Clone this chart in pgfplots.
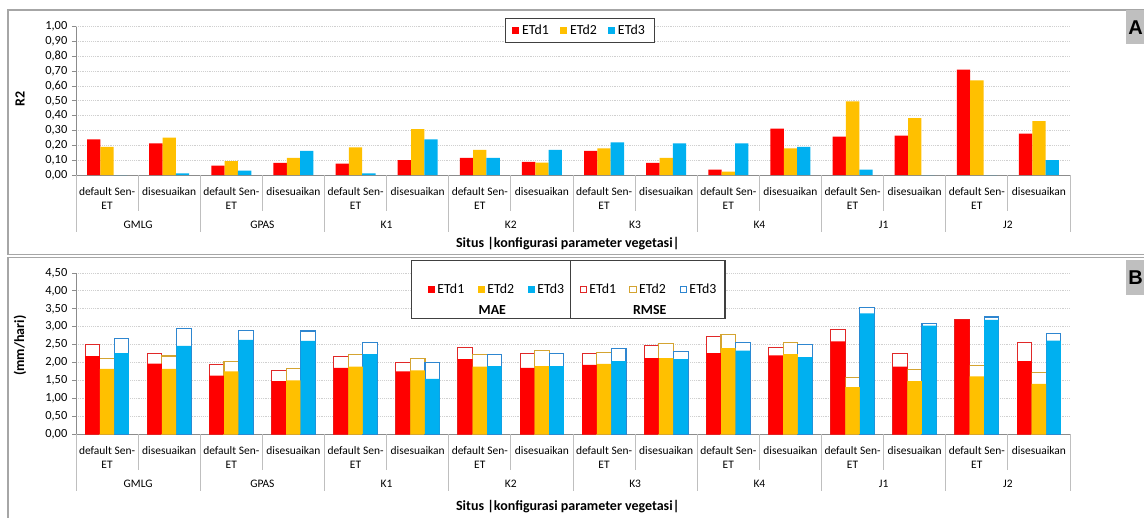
\documentclass[border=0pt]{standalone}
\usepackage{pgfplots}
\pgfplotsset{compat=1.18}
\usepackage{pgfplotstable}
\usepackage{fontspec}
\setmainfont{Carlito}
\newfontfamily\arialf{Liberation Sans}
\definecolor{cR}{HTML}{FF0000}
\definecolor{cY}{HTML}{FFC000}
\definecolor{cB}{HTML}{00B0F0}
\definecolor{rR}{HTML}{E02828}
\definecolor{rY}{HTML}{D4A431}
\definecolor{rB}{HTML}{2E86D0}
\definecolor{frameg}{HTML}{A6A6A6}
\definecolor{sepg}{HTML}{BFBFBF}
\definecolor{gridg}{HTML}{D0D0D0}
\definecolor{axg}{HTML}{8C8C8C}
\definecolor{legg}{HTML}{404040}
\definecolor{boxg}{HTML}{BFBFBF}
\newcommand{\fs}{\fontsize{9.3}{10}\selectfont}
\newcommand{\fc}{\fontsize{8.6}{10.2}\selectfont}
\newcommand{\fl}{\fontsize{10.4}{11}\selectfont}
\newcommand{\ft}{\fontsize{10.5}{12}\selectfont\bfseries}

\pgfplotstableread{
x a1 a2 a3
0 0.240 0.190 0.000
1 0.213 0.252 0.011
2 0.063 0.094 0.029
3 0.081 0.115 0.162
4 0.076 0.187 0.011
5 0.101 0.310 0.240
6 0.115 0.169 0.115
7 0.088 0.083 0.169
8 0.162 0.180 0.220
9 0.081 0.115 0.213
10 0.036 0.022 0.213
11 0.312 0.180 0.189
12 0.258 0.497 0.036
13 0.265 0.384 0.000
14 0.710 0.638 0.000
15 0.279 0.364 0.101
}\tblA

\pgfplotstableread{
x m1 m2 m3 r1 r2 r3
0 2.18 1.82 2.26 2.50 2.12 2.68
1 1.97 1.82 2.46 2.26 2.18 2.96
2 1.63 1.75 2.63 1.95 2.03 2.90
3 1.48 1.50 2.60 1.78 1.83 2.88
4 1.85 1.88 2.23 2.17 2.23 2.55
5 1.75 1.78 1.54 2.00 2.10 2.00
6 2.09 1.88 1.90 2.42 2.22 2.22
7 1.85 1.90 1.90 2.25 2.33 2.25
8 1.93 1.96 2.04 2.25 2.28 2.39
9 2.12 2.12 2.09 2.48 2.53 2.31
10 2.26 2.40 2.33 2.73 2.79 2.55
11 2.20 2.23 2.15 2.42 2.55 2.50
12 2.59 1.31 3.37 2.93 1.58 3.54
13 1.88 1.48 3.03 2.25 1.81 3.09
14 3.20 1.61 3.19 3.21 1.92 3.27
15 2.04 1.40 2.61 2.55 1.72 2.82
}\tblB

\pgfplotsset{
  panel/.style={
    scale only axis, width=745.5pt,
    xmin=-0.5, xmax=15.5, ymin=0,
    enlarge x limits=false,
    axis x line*=bottom, axis y line*=left,
    axis line style={draw=axg, line width=0.6pt},
    xtick={0,...,15},
    xticklabels={default Sen-\\ET,disesuaikan,default Sen-\\ET,disesuaikan,default Sen-\\ET,disesuaikan,default Sen-\\ET,disesuaikan,default Sen-\\ET,disesuaikan,default Sen-\\ET,disesuaikan,default Sen-\\ET,disesuaikan,default Sen-\\ET,disesuaikan},
    x tick style={draw=none},
    xticklabel style={align=center, anchor=north, yshift=-3pt, font=\fc},
    ymajorgrids, major grid style={gridg, densely dotted, line width=0.7pt},
    y tick style={axg, line width=0.6pt}, tick align=outside, major tick length=3pt,
    yticklabel style={font=\fs, /pgf/number format/.cd, fixed, fixed zerofill, precision=2, use comma},
    /pgf/number format/assume math mode=true,
    clip=false,
    every axis y label/.style={rotate=90, anchor=center, font=\ft},
    every axis x label/.style={anchor=center, font=\ft},
    xlabel={Situs |konfigurasi parameter vegetasi|},
    legend cell align=left,
  },
}

\newcommand{\catdecor}{%
  \pgfplotsinvokeforeach{-0.5,1.5,3.5,5.5,7.5,9.5,11.5,13.5,15.5}{\draw[sepg, line width=0.6pt] (axis cs:##1,0) -- ++(0pt,-42.75pt);}%
  \pgfplotsinvokeforeach{0.5,2.5,4.5,6.5,8.5,10.5,12.5,14.5}{\draw[sepg, line width=0.6pt] (axis cs:##1,0) -- ++(0pt,-27pt);}%
  \node[font=\fc] at ([yshift=-37.2pt]axis cs:0.5,0) {GMLG};
  \node[font=\fc] at ([yshift=-37.2pt]axis cs:2.5,0) {GPAS};
  \node[font=\fc] at ([yshift=-37.2pt]axis cs:4.5,0) {K1};
  \node[font=\fc] at ([yshift=-37.2pt]axis cs:6.5,0) {K2};
  \node[font=\fc] at ([yshift=-37.2pt]axis cs:8.5,0) {K3};
  \node[font=\fc] at ([yshift=-37.2pt]axis cs:10.5,0) {K4};
  \node[font=\fc] at ([yshift=-37.2pt]axis cs:12.5,0) {J1};
  \node[font=\fc] at ([yshift=-37.2pt]axis cs:14.5,0) {J2};
}

\begin{document}
\begin{tikzpicture}
\path[use as bounding box] (0pt,0pt) rectangle (858pt,-387.75pt);
\fill[white] (0pt,0pt) rectangle (858pt,-387.75pt);
% frames
\draw[frameg, line width=1pt] (6pt,-7.5pt) rectangle (870pt,-191pt);
\draw[frameg, line width=1pt] (6pt,-193.2pt) rectangle (870pt,-395pt);

% ---------------- Panel A ----------------
\begin{axis}[panel,
  at={(57pt,-131.25pt)}, anchor=south west,
  height=111.2pt, ymax=1,
  ytick={0,0.1,...,1.01},
  ylabel={R2},
  ylabel style={at={(rel axis cs:-0.0563,0.51)}},
  xlabel style={at={(rel axis cs:0.4947,-0.465)}},
  ybar=0pt, bar width=0.215,
  legend columns=3,
  legend image code/.code={\fill[#1] (0pt,-2.65pt) rectangle (5.3pt,2.65pt);},
  legend style={at={(rel axis cs:0.507,0.974)}, anchor=center, draw=legg, line width=0.9pt,
    font=\fl, inner xsep=5pt, inner ysep=2.5pt,
    /tikz/every even column/.append style={column sep=6.5pt}},
]
\addplot[fill=cR, draw=none, bar shift=-0.215] table[x=x, y=a1]{\tblA};
\addlegendentry{ETd1}
\addplot[fill=cY, draw=none, bar shift=0] table[x=x, y=a2]{\tblA};
\addlegendentry{ETd2}
\addplot[fill=cB, draw=none, bar shift=0.215] table[x=x, y=a3]{\tblA};
\addlegendentry{ETd3}
\catdecor
\end{axis}

% ---------------- Panel B ----------------
\begin{axis}[panel,
  at={(57pt,-325.5pt)}, anchor=south west,
  height=120.75pt, ymax=4.5,
  ytick={0,0.5,...,4.51},
  ylabel={(mm/hari)},
  ylabel style={at={(rel axis cs:-0.0563,0.548)}},
  xlabel style={at={(rel axis cs:0.4947,-0.453)}},
  ybar=0pt, bar width=0.235,
  legend columns=3,
  legend image code/.code={\fill[#1] (0pt,-2.65pt) rectangle (5.3pt,2.65pt);},
  legend style={at={(rel axis cs:0.4238,0.830)}, anchor=center, draw=none, fill=none,
    font=\fl, row sep=3.5pt, inner sep=0pt,
    /tikz/every even column/.append style={column sep=8pt}},
]
\addplot[fill=white, draw=rR, line width=0.8pt, bar shift=-0.235, forget plot] table[x=x, y=r1]{\tblB};
\addplot[fill=white, draw=rY, line width=0.8pt, bar shift=0, forget plot] table[x=x, y=r2]{\tblB};
\addplot[fill=white, draw=rB, line width=0.8pt, bar shift=0.235, forget plot] table[x=x, y=r3]{\tblB};
\addplot[fill=cR, draw=none, bar shift=-0.235] table[x=x, y=m1]{\tblB};
\addlegendentry{ETd1}
\addplot[fill=cY, draw=none, bar shift=0] table[x=x, y=m2]{\tblB};
\addlegendentry{ETd2}
\addplot[fill=cB, draw=none, bar shift=0.235] table[x=x, y=m3]{\tblB};
\addlegendentry{ETd3}
\addlegendimage{empty legend}\addlegendentry{\mbox{}}
\addlegendimage{empty legend}\addlegendentry{\hspace*{-6.5pt}\textbf{MAE}}
\addlegendimage{empty legend}\addlegendentry{\mbox{}}
\fill[white] (rel axis cs:0.3377,1.0764) rectangle (rel axis cs:0.6529,0.7186);
\catdecor
\end{axis}

% RMSE legend (hidden axis with same geometry)
\begin{axis}[
  scale only axis, width=745.5pt, height=120.75pt,
  at={(57pt,-325.5pt)}, anchor=south west,
  hide axis, xmin=0, xmax=1, ymin=0, ymax=1,
  legend columns=3, legend cell align=left,
  legend style={at={(rel axis cs:0.5767,0.830)}, anchor=center, draw=none, fill=none,
    font=\fl, row sep=3.5pt, inner sep=0pt,
    /tikz/every even column/.append style={column sep=8pt}},
]
\addlegendimage{legend image code/.code={\draw[draw=rR, line width=0.7pt, fill=white] (0.35pt,-2.3pt) rectangle (4.95pt,2.3pt);}}
\addlegendentry{ETd1}
\addlegendimage{legend image code/.code={\draw[draw=rY, line width=0.7pt, fill=white] (0.35pt,-2.3pt) rectangle (4.95pt,2.3pt);}}
\addlegendentry{ETd2}
\addlegendimage{legend image code/.code={\draw[draw=rB, line width=0.7pt, fill=white] (0.35pt,-2.3pt) rectangle (4.95pt,2.3pt);}}
\addlegendentry{ETd3}
\addlegendimage{empty legend}\addlegendentry{\mbox{}}
\addlegendimage{empty legend}\addlegendentry{\hspace*{-4.5pt}\textbf{RMSE}}
\addlegendimage{empty legend}\addlegendentry{\mbox{}}
\end{axis}

% legend B frame
\draw[legg, line width=0.9pt] (308.8pt,-195.5pt) rectangle (543.75pt,-238.7pt);
\draw[legg, line width=0.9pt] (428pt,-195.5pt) -- (428pt,-238.7pt);

% panel tags
\fill[boxg] (844.5pt,-7.5pt) rectangle (870pt,-33pt);
\node[anchor=west, inner sep=0pt, font=\arialf\bfseries\fontsize{15}{15}\selectfont] at (846pt,-20.5pt) {A};
\fill[boxg] (844.5pt,-195pt) rectangle (870pt,-221.25pt);
\node[anchor=west, inner sep=0pt, font=\arialf\bfseries\fontsize{15}{15}\selectfont] at (846pt,-208.5pt) {B};
\end{tikzpicture}
\end{document}
